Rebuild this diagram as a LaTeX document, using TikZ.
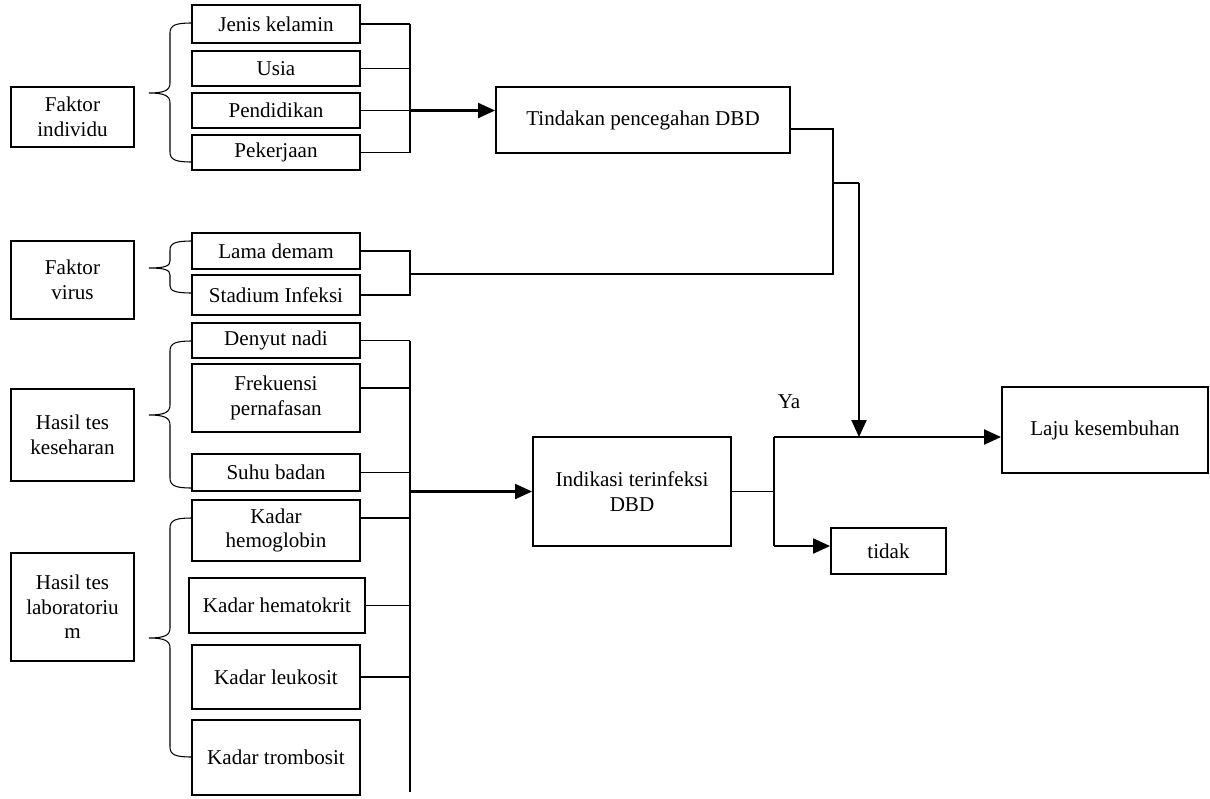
\documentclass[tikz,border=0pt]{standalone}
\usepackage{fontspec}
\setmainfont{Liberation Serif}
\usetikzlibrary{arrows.meta, calc}
\tikzset{
  box/.style={draw, line width=1.1pt, align=center, inner sep=1pt, minimum width=3.36cm},
  fak/.style={box, minimum width=2.46cm},
  ln/.style={line width=0.6pt},
  arr/.style={-{Triangle[length=0.34cm, width=0.3cm]}, line width=1.2pt},
}
\begin{document}
\begin{tikzpicture}[x=0.02cm, y=-0.02cm, font=\fontsize{12}{14}\selectfont]
    \useasboundingbox (0,0) rectangle (1210,798);
    % faktor boxes
    \node[fak, minimum height=1.2cm] (findiv) at (72.5,117) {Faktor\\individu};
    \node[fak, minimum height=1.56cm] (fvirus) at (72.5,280) {Faktor\\virus};
    \node[fak, minimum height=1.84cm] (fkes) at (72.5,435) {Hasil tes\\keseharan};
    \node[fak, minimum height=2.16cm] (flab) at (72.5,607) {Hasil tes\\laboratoriu\\m};
    % variabel boxes
    \node[box, minimum height=0.76cm] (jk) at (276,24) {Jenis kelamin};
    \node[box, minimum height=0.7cm] (usia) at (276,68.5) {Usia};
    \node[box, minimum height=0.7cm] (pend) at (276,110.5) {Pendidikan};
    \node[box, minimum height=0.7cm] (pek) at (276,152.5) {Pekerjaan};
    \node[box, minimum height=0.72cm] (lama) at (276,251) {Lama demam};
    \node[box, minimum height=0.8cm] (stad) at (276,295) {Stadium Infeksi};
    \node[box, minimum height=0.7cm] (nadi) at (276,340.5) {Denyut nadi};
    \node[box, minimum height=1.36cm] (frek) at (276,398) {Frekuensi\\pernafasan};
    \node[box, minimum height=0.74cm] (suhu) at (276,472.5) {Suhu badan};
    \node[box, minimum height=1.22cm] (hemo) at (276,530.5) {Kadar\\hemoglobin};
    \node[box, minimum width=3.52cm, minimum height=1.1cm] (hemat) at (277,605.5) {Kadar hematokrit};
    \node[box, minimum height=1.28cm] (leuko) at (276,677) {Kadar leukosit};
    \node[box, minimum height=1.5cm] (trombo) at (276,757.5) {Kadar trombosit};
    % hasil boxes
    \node[box, minimum width=5.88cm, minimum height=1.32cm] (tind) at (643,120) {Tindakan pencegahan DBD};
    \node[box, minimum width=3.96cm, minimum height=2.18cm] (indik) at (632,491.5) {Indikasi terinfeksi\\DBD};
    \node[box, minimum width=4.12cm, minimum height=1.72cm] (laju) at (1105,430) {Laju kesembuhan};
    \node[box, minimum width=2.3cm, minimum height=0.92cm] (tidak) at (888.5,551) {tidak};
    \node (ya) at (789,402) {Ya};
    % braces
    \draw[ln] (192,23) .. controls (176,23) and (170,25) .. (170,33) -- (170,83)
      .. controls (170,90) and (165,93) .. (149,93) .. controls (165,93) and (170,96) .. (170,103)
      -- (170,152) .. controls (170,160) and (176,162) .. (192,162);
    \draw[ln] (192,241) .. controls (176,241) and (170,243) .. (170,250) -- (170,261)
      .. controls (170,266) and (165,268) .. (149,268) .. controls (165,268) and (170,270) .. (170,275)
      -- (170,286) .. controls (170,291) and (176,293) .. (192,293);
    \draw[ln] (192,341) .. controls (176,341) and (170,343) .. (170,351) -- (170,405)
      .. controls (170,412) and (165,415) .. (149,415) .. controls (165,415) and (170,418) .. (170,425)
      -- (170,478) .. controls (170,486) and (176,488) .. (192,488);
    \draw[ln] (192,518) .. controls (176,518) and (170,520) .. (170,528) -- (170,628)
      .. controls (170,635) and (165,638) .. (149,638) .. controls (165,638) and (170,641) .. (170,648)
      -- (170,747) .. controls (170,755) and (176,757) .. (192,757);
    % coordinates of the bars
    \coordinate (b1) at (410,25);
    \coordinate (vj) at (410,274);
    \coordinate (tr) at (833,129);
    \coordinate (jn) at (833,183);
    \coordinate (dn) at (859,183);
    \coordinate (b3t) at (410,341);
    \coordinate (b3b) at (410,792);
    \coordinate (yabr) at (774,437);
    \coordinate (tdk) at (774,546);
    % faktor individu
    \draw[ln] (jk.east) -- (jk.east -| b1);
    \draw[ln] (usia.east) -- (usia.east -| b1);
    \draw[ln] (pend.east) -- (pend.east -| b1);
    \draw[ln] (pek.east) -- (pek.east -| b1);
    \draw[ln] (jk.east -| b1) -- (pek.east -| b1);
    \draw[arr] (pend.east -| b1) -- (pend.east -| tind.west);
    % faktor virus
    \draw[ln] (lama.east) -- (lama.east -| b1) -- (stad.east -| b1) -- (stad.east);
    \draw[ln] (vj) -| (tr) -- (tr -| tind.east);
    \draw[ln] (jn) -- (dn);
    \draw[arr] (dn) -- (dn |- yabr);
    % hasil tes
    \draw[ln] (nadi.east) -- (nadi.east -| b3t);
    \draw[ln] ($(frek.east)+(0,-10)$) -- ($(frek.east -| b3t)+(0,-10)$);
    \draw[ln] (suhu.east) -- (suhu.east -| b3t);
    \draw[ln] ($(hemo.east)+(0,-12.5)$) -- ($(hemo.east -| b3t)+(0,-12.5)$);
    \draw[ln] (hemat.east) -- (hemat.east -| b3t);
    \draw[ln] (leuko.east) -- (leuko.east -| b3t);
    \draw[ln] (b3t) -- (b3b);
    \draw[arr] (indik.west -| b3t) -- (indik.west);
    % keputusan
    \draw[ln] (indik.east) -- (indik.east -| yabr);
    \draw[ln] (yabr) -- (tdk);
    \draw[arr] (yabr) -- (yabr -| laju.west);
    \draw[arr] (tdk) -- (tdk -| tidak.west);
  \end{tikzpicture}
\end{document}
